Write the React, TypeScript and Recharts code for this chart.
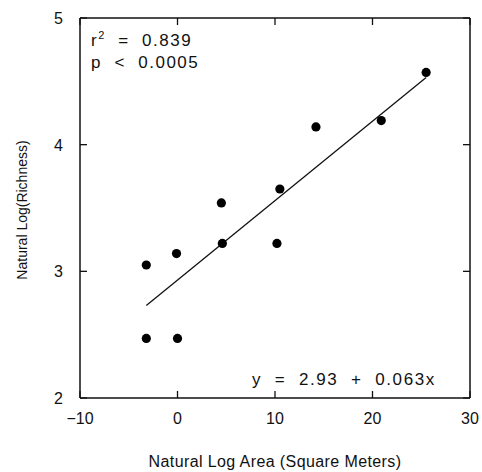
import { ScatterChart, Scatter, XAxis, YAxis } from 'recharts';

// ln(area) vs ln(richness)
const AREA = [-3.2, -0.1, 4.5, 4.6, 10.2, -3.2, 0.0, 10.5, 14.2, 20.9, 25.5];
const RICHNESS = [3.05, 3.14, 3.54, 3.22, 3.22, 2.47, 2.47, 3.65, 4.14, 4.19, 4.57];

// fitted line end points
const FIT_X = [-3.2, 25.5];
const FIT_Y = [2.73, 4.53];

const X_TICKS = [-10, 0, 10, 20, 30];
const Y_TICKS = [2, 3, 4, 5];

const points = AREA.map((x, i) => ({ x, y: RICHNESS[i] }));
const fit = FIT_X.map((x, i) => ({ x, y: FIT_Y[i] }));

const INK = '#111';
const FONT = '"Liberation Sans", Arial, sans-serif';

const fmt = (v: number) => (v < 0 ? `\u2212${Math.abs(v)}` : `${v}`);

// tick lines point inward (negative tickSize), labels drawn here
const BottomTick = (props: any) => {
  const { x, y, payload } = props;
  return (
    <text x={x} y={y + 26} textAnchor="middle" fontSize={16} fontFamily={FONT} fill={INK}>
      {fmt(payload.value)}
    </text>
  );
};

const LeftTick = (props: any) => {
  const { x, y, payload } = props;
  return (
    <text x={x - 17} y={y + 6} textAnchor="end" fontSize={16} fontFamily={FONT} fill={INK}>
      {payload.value}
    </text>
  );
};

const NoTick = () => <g />;

const Dot = (props: any) => <circle cx={props.cx} cy={props.cy} r={4.6} fill="#000" />;
const NoDot = () => <g />;

const axisLine = { stroke: INK, strokeWidth: 1.5 };
const tickLine = { stroke: INK, strokeWidth: 1.3 };

export default function App() {
  return (
    <div style={{ position: 'absolute', left: 0, top: 0, width: 482, height: 472, background: '#fff' }}>
      <ScatterChart width={482} height={472} margin={{ top: 8, right: 2, bottom: 0, left: 0 }}>
        <XAxis
          dataKey="x"
          type="number"
          domain={[-10, 30]}
          ticks={X_TICKS}
          height={74}
          tickSize={-7}
          tickMargin={7}
          tickLine={tickLine}
          axisLine={axisLine}
          tick={BottomTick}
          interval={0}
        />
        <XAxis
          xAxisId="top"
          orientation="top"
          dataKey="x"
          type="number"
          domain={[-10, 30]}
          ticks={X_TICKS}
          height={10}
          tickSize={-7}
          tickMargin={0}
          tickLine={tickLine}
          axisLine={axisLine}
          tick={NoTick}
          interval={0}
        />
        <YAxis
          dataKey="y"
          type="number"
          domain={[2, 5]}
          ticks={Y_TICKS}
          width={80}
          tickSize={-7}
          tickMargin={7}
          tickLine={tickLine}
          axisLine={axisLine}
          tick={LeftTick}
          interval={0}
        />
        <YAxis
          yAxisId="right"
          orientation="right"
          dataKey="y"
          type="number"
          domain={[2, 5]}
          ticks={Y_TICKS}
          width={10}
          tickSize={-7}
          tickMargin={0}
          tickLine={tickLine}
          axisLine={axisLine}
          tick={NoTick}
          interval={0}
        />
        <Scatter
          data={fit}
          xAxisId="top"
          yAxisId="right"
          line={{ stroke: INK, strokeWidth: 1.3 }}
          shape={NoDot}
          isAnimationActive={false}
        />
        <Scatter data={points} shape={Dot} isAnimationActive={false} />
      </ScatterChart>
      <svg
        width={482}
        height={472}
        style={{ position: 'absolute', left: 0, top: 0, pointerEvents: 'none' }}
        fontFamily={FONT}
        fill={INK}
      >
        <text x={91} y={46} fontSize={17} letterSpacing={1.5} style={{ whiteSpace: 'pre' }}>
          r<tspan fontSize={11} dy={-7}>2</tspan>
          <tspan dy={7}>{'  =  0.839'}</tspan>
        </text>
        <text x={91} y={68} fontSize={17} letterSpacing={1.5} style={{ whiteSpace: 'pre' }}>
          {'p  <  0.0005'}
        </text>
        <text x={252} y={385} fontSize={17} letterSpacing={1.6} style={{ whiteSpace: 'pre' }}>
          {'y  =  2.93  +  0.063x'}
        </text>
        <text x={275} y={467} fontSize={16} textAnchor="middle" letterSpacing={0.4}>
          Natural Log Area (Square Meters)
        </text>
        <text x={27} y={210} fontSize={14} textAnchor="middle" transform="rotate(-90 27 210)">
          Natural Log(Richness)
        </text>
      </svg>
    </div>
  );
}
